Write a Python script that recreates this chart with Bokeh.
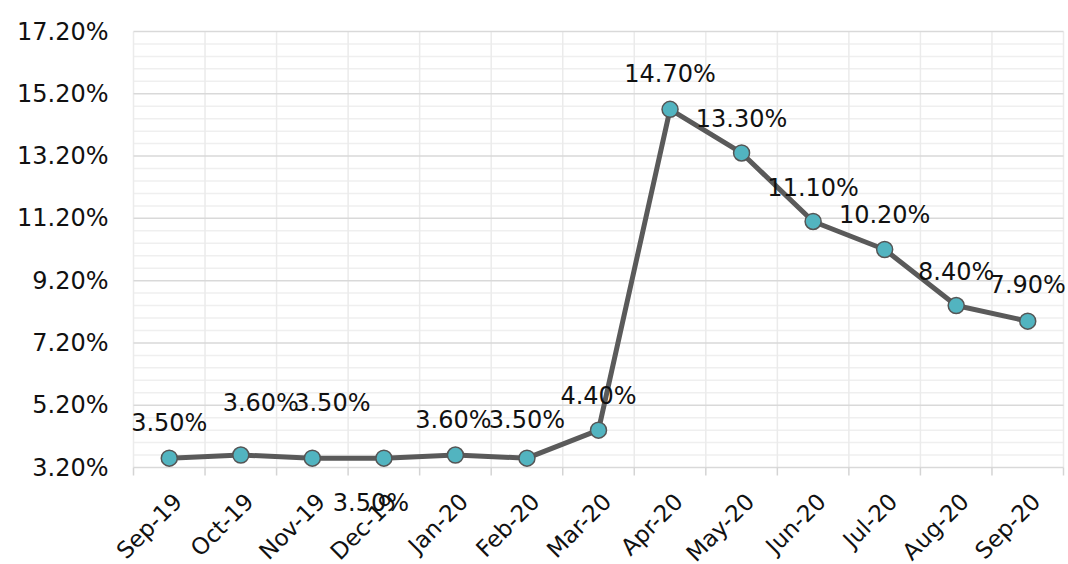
from bokeh.plotting import figure
from bokeh.models import (Range1d, FixedTicker, PrintfTickFormatter, CustomJSTickFormatter,
                          ColumnDataSource)
from bokeh.core.properties import value
from bokeh.embed import file_html
from bokeh.resources import INLINE
import math

# ---- data ----
months = ["Sep-19", "Oct-19", "Nov-19", "Dec-19", "Jan-20", "Feb-20", "Mar-20",
          "Apr-20", "May-20", "Jun-20", "Jul-20", "Aug-20", "Sep-20"]
rates = [3.5, 3.6, 3.5, 3.5, 3.6, 3.5, 4.4, 14.7, 13.3, 11.1, 10.2, 8.4, 7.9]
y_ticks = [3.2, 5.2, 7.2, 9.2, 11.2, 13.2, 15.2, 17.2]

# ---- label placement (style, pixels; positive dy = downwards) ----
label_dx = [0, 20, 20, -13, -2, 0, 0, 0, 0, 0, 0, 0, 0]
label_dy = [-35, -52, -55, 45, -35, -38, -34, -35, -34, -33, -35, -34, -36]

FONT = "DejaVu Sans"
FS = "24px"
FS_CAT = "23px"
TXT = "#111111"

# ---- layout (pixels) ----
W, H = 1066, 564
PLOT_L, PLOT_R = 133, 1063     # pixel columns of the first / last category boundary
PLOT_T, PLOT_B = 31, 467       # pixel rows of the top / bottom value tick
TICK_LEN = 8

n = len(months)
xs = [i + 0.5 for i in range(n)]
labels = ["%.2f%%" % v for v in rates]
bounds = list(range(n + 1))

ymin, ymax = y_ticks[0], y_ticks[-1]
ppu_y = (PLOT_B - PLOT_T) / (ymax - ymin)
ppu_x = (PLOT_R - PLOT_L) / n
x_start, x_end = -PLOT_L / ppu_x, (W - PLOT_L) / ppu_x
y_start, y_end = ymin - (H - PLOT_B) / ppu_y, ymax + PLOT_T / ppu_y

minor_y = [round(ymin + 0.4 * k, 2) for k in range(int(round((ymax - ymin) / 0.4)) + 1)]
minor_only = [v for v in minor_y if all(abs(v - t) > 1e-9 for t in y_ticks)]

src = ColumnDataSource(dict(x=xs, y=rates, label=labels, dx=label_dx, dy=label_dy))
vgrid = ColumnDataSource(dict(x=bounds, y0=[ymin] * len(bounds), y1=[ymax] * len(bounds),
                              yt=[ymin - TICK_LEN / ppu_y] * len(bounds)))
hmaj = ColumnDataSource(dict(y=y_ticks, x0=[0] * len(y_ticks), x1=[n] * len(y_ticks)))
hmin = ColumnDataSource(dict(y=minor_only, x0=[0] * len(minor_only), x1=[n] * len(minor_only)))

p = figure(width=W, height=H, output_backend="svg", toolbar_location=None,
           x_range=Range1d(x_start, x_end), y_range=Range1d(y_start, y_end),
           min_border_left=0, min_border_top=0, min_border_bottom=0, min_border_right=0)
p.outline_line_color = None
p.background_fill_color = "white"
p.border_fill_color = "white"
p.xgrid.visible = False
p.ygrid.visible = False

# value axis, pinned at the first category boundary
ya = p.yaxis[0]
ya.fixed_location = 0
ya.ticker = FixedTicker(ticks=y_ticks)
ya.formatter = PrintfTickFormatter(format="%.2f%%")
ya.axis_line_color = None
ya.major_tick_line_color = None
ya.minor_tick_line_color = None
ya.major_tick_out = 0
ya.major_tick_in = 0
ya.minor_tick_out = 0
ya.minor_tick_in = 0
ya.major_label_standoff = 25
ya.major_label_text_font = FONT
ya.major_label_text_font_size = FS
ya.major_label_text_color = TXT

# category axis, pinned at the lowest value tick
xa = p.xaxis[0]
xa.fixed_location = ymin
xa.ticker = FixedTicker(ticks=[x + 0.12 for x in xs])
xa.formatter = CustomJSTickFormatter(args=dict(labels=months),
                                     code="return labels[Math.floor(tick)];")
xa.axis_line_color = None
xa.major_tick_line_color = None
xa.minor_tick_line_color = None
xa.major_tick_out = 0
xa.major_tick_in = 0
xa.minor_tick_out = 0
xa.minor_tick_in = 0
xa.major_label_orientation = math.pi / 4
xa.major_label_standoff = 30
xa.major_label_text_font = FONT
xa.major_label_text_font_size = FS_CAT
xa.major_label_text_color = TXT

# gridlines
p.segment(x0="x0", y0="y", x1="x1", y1="y", source=hmin, line_color="#efefef", line_width=1.5)
p.segment(x0="x", y0="y0", x1="x", y1="y1", source=vgrid, line_color="#ebebeb", line_width=1.5)
p.segment(x0="x0", y0="y", x1="x1", y1="y", source=hmaj, line_color="#d9d9d9", line_width=1.5)
# tick marks below the category axis
p.segment(x0="x", y0="y0", x1="x", y1="yt", source=vgrid, line_color="#d4d4d4", line_width=1.5)

# series
p.line("x", "y", source=src, line_color="#5a5a5a", line_width=5, line_join="round")
p.scatter("x", "y", source=src, size=16, fill_color="#52b4c0", line_color="#555555",
          line_width=1.5)
p.text("x", "y", text="label", source=src, x_offset="dx", y_offset="dy",
       text_align="center", text_baseline="middle", text_font=value(FONT),
       text_font_size=value(FS), text_color=TXT)

open("out.html", "w").write(file_html(p, INLINE))
